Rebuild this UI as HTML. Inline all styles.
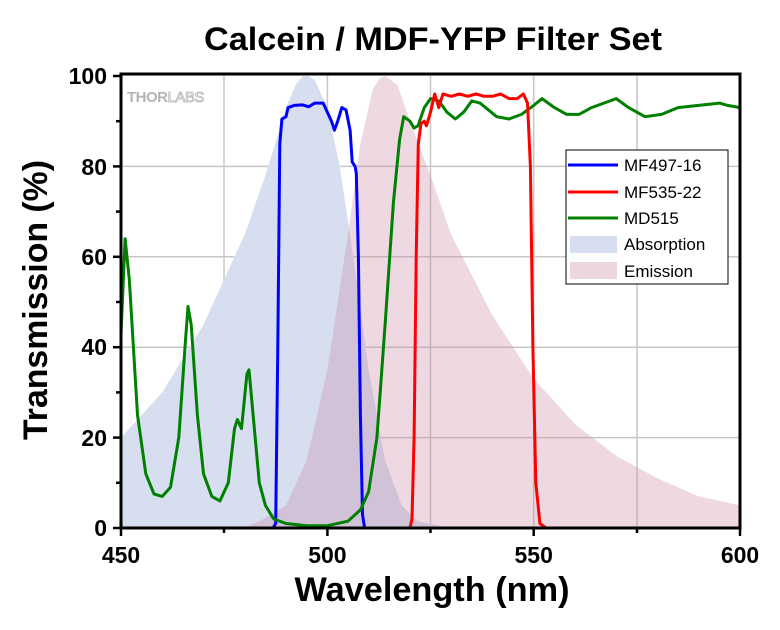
<!DOCTYPE html>
<html><head><meta charset="utf-8"><style>
body{margin:0;background:#fff;}
svg{display:block;font-family:"Liberation Sans",Arial,sans-serif;}
</style></head><body>
<svg width="780" height="630" viewBox="0 0 780 630">
<rect width="780" height="630" fill="#fff"/>
<text x="433" y="50" text-anchor="middle" font-size="32" font-weight="bold" textLength="458" lengthAdjust="spacingAndGlyphs">Calcein / MDF-YFP Filter Set</text>
<!-- grid -->
<g stroke="#c8c8c8" stroke-width="1.5">
<line x1="121" y1="437.6" x2="740" y2="437.6"/><line x1="121" y1="347.2" x2="740" y2="347.2"/>
<line x1="121" y1="256.8" x2="740" y2="256.8"/><line x1="121" y1="166.4" x2="740" y2="166.4"/>
<line x1="224" y1="74" x2="224" y2="528"/><line x1="327.4" y1="74" x2="327.4" y2="528"/>
<line x1="430.5" y1="74" x2="430.5" y2="528"/><line x1="533.7" y1="74" x2="533.7" y2="528"/>
<line x1="637" y1="74" x2="637" y2="528"/>
</g>
<text x="127" y="102" font-size="15" font-weight="bold" fill="#b4b4b4" letter-spacing="-0.5">THOR<tspan font-weight="normal" fill="none" stroke="#b4b4b4" stroke-width="0.8">LABS</tspan></text>
<!-- absorption -->
<path fill="#d6deef" d="M121,528 L121,437.6 L162.3,392.4 L203.5,324.6 L244.8,234.2 L265.4,175.4 L286,107.6 L296,84 L303,76 L309,76 L315,80.5 L327.4,107.6 L339.7,166.4 L352,247.8 L368.6,369.8 L385,460.2 L401.6,505.4 L418,521.2 L451,528 Z"/>
<!-- emission -->
<path fill="rgba(200,130,160,0.3)" d="M244.8,528 L265.4,518 L286,505.4 L306.7,460.2 L327.4,369.8 L348,234.2 L360.4,143.8 L372.7,89.6 L380,78 L385.1,76 L397.5,85 L410,121.2 L430.5,175.4 L451,234.2 L492.5,315.6 L533.7,378.8 L575,424 L616,455.7 L657.4,478.3 L698.7,496.4 L740,505.4 L740,528 Z"/>
<!-- blue -->
<polyline fill="none" stroke="#0000ff" stroke-width="3" stroke-linejoin="round" points="121,528 273,528 275.7,523.5 277.8,347.2 279.8,143.8 281.9,119 286,116.7 288.1,107.6 294.3,105.4 302.5,104.9 308.7,106.7 314.9,103.1 323.2,103.1 327.4,112.2 331.5,121.2 334.4,130.2 337.7,121.2 341.8,107.6 346,109.9 350.1,130.2 352.2,161.9 355.1,166.4 356.3,173.2 358.4,256.8 360.4,415 362.5,514.4 364.6,528 740,528"/>
<!-- green -->
<polyline fill="none" stroke="#008000" stroke-width="3" stroke-linejoin="round" points="121,333.6 125.1,238.7 129.3,279.4 137.5,415 145.8,473.8 154,494 162.3,496.4 170.5,487.3 178.8,437.6 185,347.2 188,306.5 191.2,324.6 197.4,415 203.5,473.8 211.8,496.4 220,500.9 228.3,482.8 234.5,428.6 237.4,419.5 241.5,428.6 246.9,374.3 249,369.8 253.1,415 259.3,482.8 265.4,505.4 273.7,519 286,523.5 306.7,525.7 327.4,525.7 348,521.2 360.4,509.9 368.6,491.8 376.9,437.6 385.1,324.6 393.4,202.6 399.6,139.3 403.7,116.7 410,121.2 414,128 418,125.8 424.3,107.6 430.5,98.6 438.8,100.9 447,112.2 455.3,119 463.6,112.2 471.8,100.9 480,103.1 488.4,109.9 496.7,116.7 509,119 521.4,114.4 533.7,105.4 542,98.6 554.4,107.6 566.7,114.4 579,114.4 591.5,107.6 603.9,103.1 616.2,98.6 628.6,107.6 645,116.7 661.5,114.4 678,107.6 698.7,105.4 719.4,103.1 727.6,105.4 740,107.6"/>
<!-- red -->
<polyline fill="none" stroke="#ff0000" stroke-width="3" stroke-linejoin="round" points="121,528 410,528 412,519 414.1,437.6 416.2,256.8 418.3,143.8 421,123.5 424.3,121.2 426.4,125.8 430.5,112.2 434.7,94 438.8,107.6 442.9,94 451.2,96.3 459.5,94 467.7,96.3 476,94 484.2,96.3 492.5,96.3 500.7,94 509,98.6 517.2,98.6 523.4,94 527.5,103.1 530.4,166.4 532.9,347.2 535.8,482.8 539.9,523.5 546,528 740,528"/>
<!-- frame -->
<rect x="121" y="74" width="619" height="454" fill="none" stroke="#000" stroke-width="3"/>
<g stroke="#000" stroke-width="2.5">
<line x1="113" y1="528" x2="121" y2="528"/><line x1="113" y1="437.6" x2="121" y2="437.6"/><line x1="113" y1="347.2" x2="121" y2="347.2"/><line x1="113" y1="256.8" x2="121" y2="256.8"/><line x1="113" y1="166.4" x2="121" y2="166.4"/><line x1="113" y1="76" x2="121" y2="76"/>
<line x1="116" y1="482.8" x2="121" y2="482.8"/><line x1="116" y1="392.4" x2="121" y2="392.4"/><line x1="116" y1="302" x2="121" y2="302"/><line x1="116" y1="211.6" x2="121" y2="211.6"/><line x1="116" y1="121.2" x2="121" y2="121.2"/>
<line x1="121" y1="528" x2="121" y2="536"/><line x1="327.4" y1="528" x2="327.4" y2="536"/><line x1="533.7" y1="528" x2="533.7" y2="536"/><line x1="740" y1="528" x2="740" y2="536"/>
<line x1="224" y1="528" x2="224" y2="533"/><line x1="430.5" y1="528" x2="430.5" y2="533"/><line x1="637" y1="528" x2="637" y2="533"/>
</g>
<g font-size="23" font-weight="bold" text-anchor="end">
<text x="107" y="536">0</text><text x="107" y="446">20</text><text x="107" y="355">40</text><text x="107" y="265">60</text><text x="107" y="175">80</text><text x="107" y="84">100</text>
</g>
<g font-size="23" font-weight="bold" text-anchor="middle">
<text x="121" y="563">450</text><text x="327.4" y="563">500</text><text x="533.7" y="563">550</text><text x="740" y="563">600</text>
</g>
<text x="432" y="601" text-anchor="middle" font-size="34" font-weight="bold" textLength="275" lengthAdjust="spacingAndGlyphs">Wavelength (nm)</text>
<text transform="translate(47,300) rotate(-90)" text-anchor="middle" font-size="34" font-weight="bold" textLength="280" lengthAdjust="spacingAndGlyphs">Transmission (%)</text>
<!-- legend -->
<rect x="566" y="150" width="162" height="134" fill="#fff" stroke="#000" stroke-width="1"/>
<g stroke-width="3"><line x1="568" y1="165" x2="618" y2="165" stroke="#0000ff"/><line x1="568" y1="192" x2="618" y2="192" stroke="#ff0000"/><line x1="568" y1="218" x2="618" y2="218" stroke="#008000"/></g>
<rect x="570" y="236" width="47" height="17" fill="#d6deef"/>
<rect x="570" y="262" width="47" height="17" fill="#ecd6e0"/>
<g font-size="17"><text x="624" y="171">MF497-16</text><text x="624" y="198">MF535-22</text><text x="624" y="224">MD515</text><text x="624" y="250">Absorption</text><text x="624" y="277">Emission</text></g>
</svg>
</body></html>
